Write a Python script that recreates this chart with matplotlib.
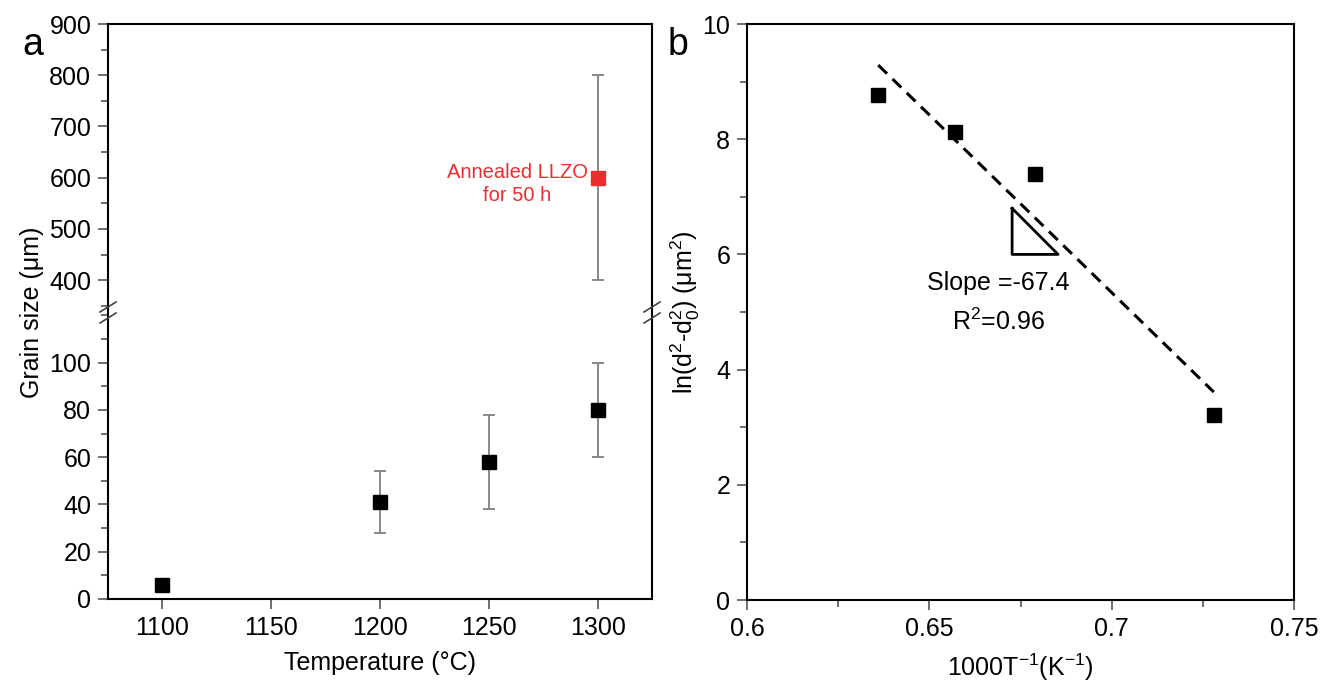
import numpy as np
import matplotlib.pyplot as plt
from matplotlib.ticker import MultipleLocator

plt.rcParams['font.family'] = ['Liberation Sans', 'DejaVu Sans']
plt.rcParams['mathtext.fontset'] = 'custom'
plt.rcParams['mathtext.rm'] = 'Liberation Sans'
plt.rcParams['mathtext.it'] = 'Liberation Sans'

# panel a data
temps = [1100, 1200, 1250, 1300]
grain = [6, 41, 58, 80]
grain_err = [0, 13, 20, 20]
annealed_temp = [1300]
annealed_grain = [600]
annealed_err = [200]

# panel b data
inv_T = [0.636, 0.657, 0.679, 0.728]
ln_d = [8.77, 8.13, 7.40, 3.22]
tri_x = [0.6727, 0.6727, 0.6853, 0.6727]
tri_y = [6.8, 6.0, 6.0, 6.8]

W, H = 1322, 687
fig = plt.figure(figsize=(W / 100, H / 100), dpi=100)

def box(x0, y0, x1, y1):
    # pixel box (top-left origin) -> figure fraction
    return [x0 / W, 1 - y1 / H, (x1 - x0) / W, (y1 - y0) / H]

ax_top = fig.add_axes(box(108, 24, 652, 313))
ax_bot = fig.add_axes(box(108, 313, 652, 599))
ax_b = fig.add_axes(box(747, 24, 1294, 600))

fs = 18
tick_kw = dict(direction='out', color='#555555', labelsize=fs, width=1.2)
lw = 1.5

for ax in (ax_top, ax_bot, ax_b):
    for s in ax.spines.values():
        s.set_linewidth(lw)
    ax.tick_params(which='major', length=7, pad=5, **tick_kw)
    ax.tick_params(which='minor', length=5, direction='out', color='#555555', width=1.2)

# --- panel a, lower part ---
ax_bot.errorbar(temps, grain, yerr=grain_err, fmt='s', color='black', ms=10,
                ecolor='#808080', elinewidth=1.3, capsize=4, capthick=1.3)
ax_bot.set_xlim(1075, 1325)
ax_bot.set_ylim(0, 121)
ax_bot.set_xticks([1100, 1150, 1200, 1250, 1300])
ax_bot.yaxis.set_minor_locator(MultipleLocator(10))
ax_bot.set_yticks([0, 20, 40, 60, 80, 100])
ax_bot.spines['top'].set_visible(False)

# --- panel a, upper part ---
ax_top.errorbar(annealed_temp, annealed_grain, yerr=annealed_err, fmt='s',
                color='#ec2d2d', ms=10, ecolor='#808080', elinewidth=1.3,
                capsize=4, capthick=1.3)
ax_top.set_xlim(1075, 1325)
ax_top.set_ylim(336, 900)
ax_top.yaxis.set_minor_locator(MultipleLocator(50))
ax_top.set_yticks([400, 500, 600, 700, 800, 900])
ax_top.spines['bottom'].set_visible(False)
ax_top.tick_params(axis='x', which='both', bottom=False, labelbottom=False)
ax_top.text(1295.5, 588, 'Annealed LLZO\nfor 50 h', color='#ec2d2d', fontsize=14.5,
            ha='right', va='center', multialignment='center', linespacing=1.3)

# break marks on both spines
for xb in (0, 1):
    for dy in (-6, 5):
        yb = (H - 313 - dy) / H
        xf = (108 + xb * 544) / W
        fig.add_artist(plt.Line2D([xf - 8 / W, xf + 8 / W], [yb - 5 / H, yb + 5 / H],
                                  color='#444444', lw=1.2))

fig.text(32 / W, 1 - 312 / H, 'Grain size (μm)', rotation=90, fontsize=fs,
         ha='center', va='center')
ax_bot.set_xlabel('Temperature (°C)', fontsize=fs, labelpad=8)
fig.text(22 / W, 1 - 45 / H, 'a', fontsize=27, ha='left', va='center')

# --- panel b ---
slope, intercept = np.polyfit(inv_T, ln_d, 1)
xf = np.array([min(inv_T), max(inv_T)])
ax_b.plot(xf, slope * xf + intercept, '--', color='black', lw=2.2, dashes=(4, 2.5))
ax_b.plot(inv_T, ln_d, 's', color='black', ms=10)
ax_b.plot(tri_x, tri_y, color='black', lw=2)
ax_b.text(0.669, 5.5, 'Slope =-67.4', fontsize=fs, ha='center', va='center')
ax_b.text(0.669, 4.83, 'R$^{2}$=0.96', fontsize=fs, ha='center', va='center')
ax_b.set_xlim(0.6, 0.75)
ax_b.set_ylim(0, 10)
ax_b.xaxis.set_minor_locator(MultipleLocator(0.025))
ax_b.yaxis.set_major_locator(MultipleLocator(2))
ax_b.yaxis.set_minor_locator(MultipleLocator(1))
ax_b.set_xticks([0.6, 0.65, 0.7, 0.75])
ax_b.set_xticklabels(['0.6', '0.65', '0.7', '0.75'])
ax_b.set_xlabel('1000T$^{-1}$(K$^{-1}$)', fontsize=fs, labelpad=8)
ax_b.set_ylabel('ln(d$^{2}$-d$_{0}^{2}$) (μm$^{2}$)', fontsize=fs)
ax_b.yaxis.set_label_coords(-0.082, 0.5)
fig.text(668 / W, 1 - 45 / H, 'b', fontsize=27, ha='left', va='center')

fig.savefig('out.png', dpi=100)
